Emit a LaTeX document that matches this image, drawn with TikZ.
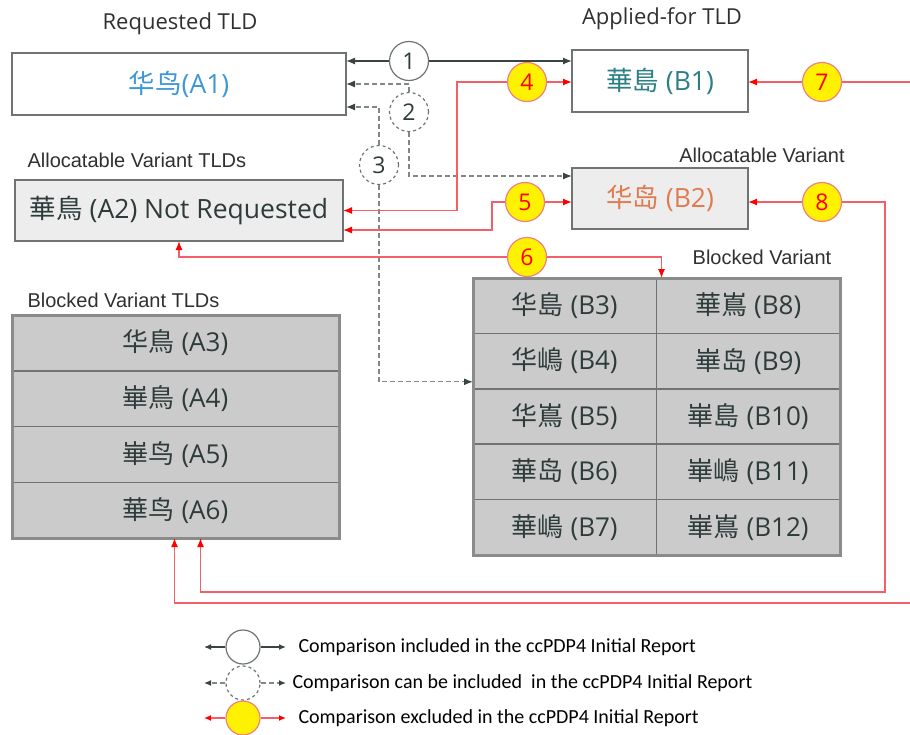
\documentclass[tikz,border=0pt]{standalone}
\usepackage{fontspec}
\setmainfont{Open Sans}
\newfontfamily\cjk{Noto Sans CJK SC}
\newfontfamily\arialf{Liberation Sans}
\newfontfamily\calib{Carlito}
\usetikzlibrary{positioning,arrows.meta}
\definecolor{boxline}{HTML}{707373}
\definecolor{frameline}{HTML}{8A8C8C}
\definecolor{greyfill}{HTML}{EDEDED}
\definecolor{cellfill}{HTML}{CBCBCB}
\definecolor{headtxt}{HTML}{303030}
\definecolor{darktxt}{HTML}{2E3B3B}
\definecolor{bluetxt}{HTML}{3E97D6}
\definecolor{tealtxt}{HTML}{2C7F84}
\definecolor{orangetxt}{HTML}{E07A4F}
\definecolor{darkline}{HTML}{3A4444}
\definecolor{dashline}{HTML}{7F8787}
\definecolor{numline}{HTML}{6E7474}
\definecolor{linered}{HTML}{F4606A}
\definecolor{circred}{HTML}{F08080}
\begin{document}
\begin{tikzpicture}[x=1pt,y=-1pt,
  head/.style={font=\fontsize{22}{26}\selectfont, text=headtxt},
  lbl/.style={font=\arialf\fontsize{20}{24}\selectfont, text=headtxt},
  tldbox/.style={draw=boxline, line width=1.5pt, fill=white, minimum height=62pt, outer sep=0pt, font=\fontsize{26.5}{30}\selectfont},
  varbox/.style={tldbox, fill=greyfill, minimum height=61pt},
  cell/.style={draw=boxline, line width=1.5pt, fill=cellfill, outer sep=0pt, inner sep=0pt, text=darktxt, font=\fontsize{26}{30}\selectfont},
  acell/.style={cell, minimum width=327pt, minimum height=55.75pt},
  bcell/.style={cell, minimum width=183.5pt, minimum height=55.4pt},
  tblframe/.style={draw=frameline, line width=3pt},
  numc/.style={circle, draw=numline, line width=1.2pt, fill=white, minimum size=39pt, inner sep=0pt, font=\fontsize{23}{26}\selectfont, text=darktxt},
  dnumc/.style={numc, dashed},
  ynumc/.style={numc, fill=yellow, draw=circred, text=red},
  inc/.style={draw=darkline, line width=1.3pt, -{Latex[length=9pt,width=7pt]}},
  can/.style={draw=dashline, line width=1.3pt, dash pattern=on 5pt off 3pt, -{Latex[length=9pt,width=7pt,color=darkline]}},
  exc/.style={draw=linered, line width=1.3pt, -{Latex[length=9pt,width=7pt,color=red]}},
  keyc/.style={circle, line width=1.2pt, minimum size=34pt, inner sep=0pt},
  keytxt/.style={anchor=west, font=\calib\fontsize{20}{24}\selectfont, text=black}]
  \useasboundingbox (0,0) rectangle (910,734);
  % headings
  \node[head] (reqlbl) at (180,24) {Requested TLD};
  \node[head] (applbl) at (662,19) {Applied-for TLD};
  \node[lbl, anchor=west] (alloclbl) at (24,160) {Allocatable Variant TLDs};
  \node[lbl] (allocvar) at (762,155) {Allocatable Variant};
  \node[lbl] (blkvar) at (762,257) {Blocked Variant};
  \node[lbl, anchor=west] (blklbl) at (24,300) {Blocked Variant TLDs};
  % boxes
  \node[tldbox, minimum width=334pt, text=bluetxt] (a1) at (179,84) {{\cjk 华鸟}(A1)};
  \node[tldbox, minimum width=176pt, text=tealtxt] (b1) at (660,81) {{\cjk 華島} (B1)};
  \node[varbox, minimum width=328pt, text=darktxt] (a2) at (179,210.5) {{\cjk 華鳥} (A2) Not Requested};
  \node[varbox, minimum width=176pt, text=orangetxt] (b2) at (660,198.5) {{\cjk 华岛} (B2)};
  % blocked variants, requested side
  \node[acell] (a3) at (175.5,342.9) {{\cjk 华鳥} (A3)};
  \node[acell, below=0pt of a3] (a4) {{\cjk 崋鳥} (A4)};
  \node[acell, below=0pt of a4] (a5) {{\cjk 崋鸟} (A5)};
  \node[acell, below=0pt of a5] (a6) {{\cjk 華鸟} (A6)};
  \draw[tblframe] (a3.north west) rectangle (a6.south east);
  % blocked variants, applied-for side
  \node[bcell] (b3) at (564.75,305.7) {{\cjk 华島} (B3)};
  \node[bcell, below=0pt of b3] (b4) {{\cjk 华嶋} (B4)};
  \node[bcell, below=0pt of b4] (b5) {{\cjk 华嶌} (B5)};
  \node[bcell, below=0pt of b5] (b6) {{\cjk 華岛} (B6)};
  \node[bcell, below=0pt of b6] (b7) {{\cjk 華嶋} (B7)};
  \node[bcell, right=0pt of b3] (b8) {{\cjk 華嶌} (B8)};
  \node[bcell, below=0pt of b8] (b9) {{\cjk 崋岛} (B9)};
  \node[bcell, below=0pt of b9] (b10) {{\cjk 崋島} (B10)};
  \node[bcell, below=0pt of b10] (b11) {{\cjk 崋嶋} (B11)};
  \node[bcell, below=0pt of b11] (b12) {{\cjk 崋嶌} (B12)};
  \draw[tblframe] (b3.north west) rectangle (b12.south east);
  % comparison circles
  \node[numc] (c1) at (409,61) {1};
  \node[dnumc] (c2) at (409,112) {2};
  \node[dnumc] (c3) at (379,165) {3};
  \node[ynumc] (c4) at (527,82) {4};
  \node[ynumc] (c5) at (525,202) {5};
  \node[ynumc] (c6) at (527,257) {6};
  \node[ynumc] (c7) at (822,82) {7};
  \node[ynumc] (c8) at (822,202) {8};
  \coordinate (k4) at (457,82);
  \coordinate (k5) at (492,202);
  \coordinate (k8) at (885,592);
  \coordinate (e7) at (910,82);
  \coordinate (e7b) at (910,603);
  % connectors
  \draw[inc] (c1) -- (a1.east |- c1);
  \draw[inc] (c1) -- (b1.west |- c1);
  \draw[can] (c2.north) |- (a1.east);
  \draw[can] (c2.south) |- ([yshift=-8pt]b2.north west);
  \draw[can] (c3.north) |- ([yshift=8pt]a1.south east);
  \draw[can] (c3.south) |- ([yshift=7pt]b4.south west);
  \draw[exc] (c4) -- (b1.west |- c4);
  \draw[exc] (c4) -- (k4) |- (a2.east);
  \draw[exc] (c5) -- (b2.west |- c5);
  \draw[exc] (c5) -- (k5) |- ([yshift=11pt]a2.south east);
  \draw[exc] (c6) -| (a2.south);
  \draw[exc] (c6) -| ([xshift=5pt]b3.north east);
  \draw[exc] (c7) -- (b1.east |- c7);
  \draw[linered, line width=1.3pt] (c7) -- (e7);
  \draw[exc] (e7b) -| ([xshift=-1pt]a6.south);
  \draw[exc] (c8) -- (b2.east |- c8);
  \draw[exc] (c8) -| (k8) -| ([xshift=25pt]a6.south);
  % legend
  \node[keyc, draw=numline, fill=white] (key1) at (243,647) {};
  \node[keyc, draw=numline, dashed, fill=white] (key2) at (243,683) {};
  \node[keyc, draw=circred, fill=yellow] (key3) at (243,718) {};
  \coordinate (l1) at (204,647);
  \coordinate (r1) at (286,647);
  \coordinate (l2) at (204,683);
  \coordinate (r2) at (286,683);
  \coordinate (l3) at (204,718);
  \coordinate (r3) at (286,718);
  \draw[inc, -{Latex[length=7pt,width=6pt]}] (key1) -- (l1);
  \draw[inc, -{Latex[length=7pt,width=6pt]}] (key1) -- (r1);
  \draw[can, -{Latex[length=7pt,width=6pt,color=darkline]}] (key2) -- (l2);
  \draw[can, -{Latex[length=7pt,width=6pt,color=darkline]}] (key2) -- (r2);
  \draw[exc, -{Latex[length=7pt,width=6pt,color=red]}] (key3) -- (l3);
  \draw[exc, -{Latex[length=7pt,width=6pt,color=red]}] (key3) -- (r3);
  \node[keytxt] (t1) at (295,647) {Comparison included in the ccPDP4 Initial Report};
  \node[keytxt] (t2) at (289,683) {Comparison can be included\ \ in the ccPDP4 Initial Report};
  \node[keytxt] (t3) at (295,718) {Comparison excluded in the ccPDP4 Initial Report};
\end{tikzpicture}
\end{document}
